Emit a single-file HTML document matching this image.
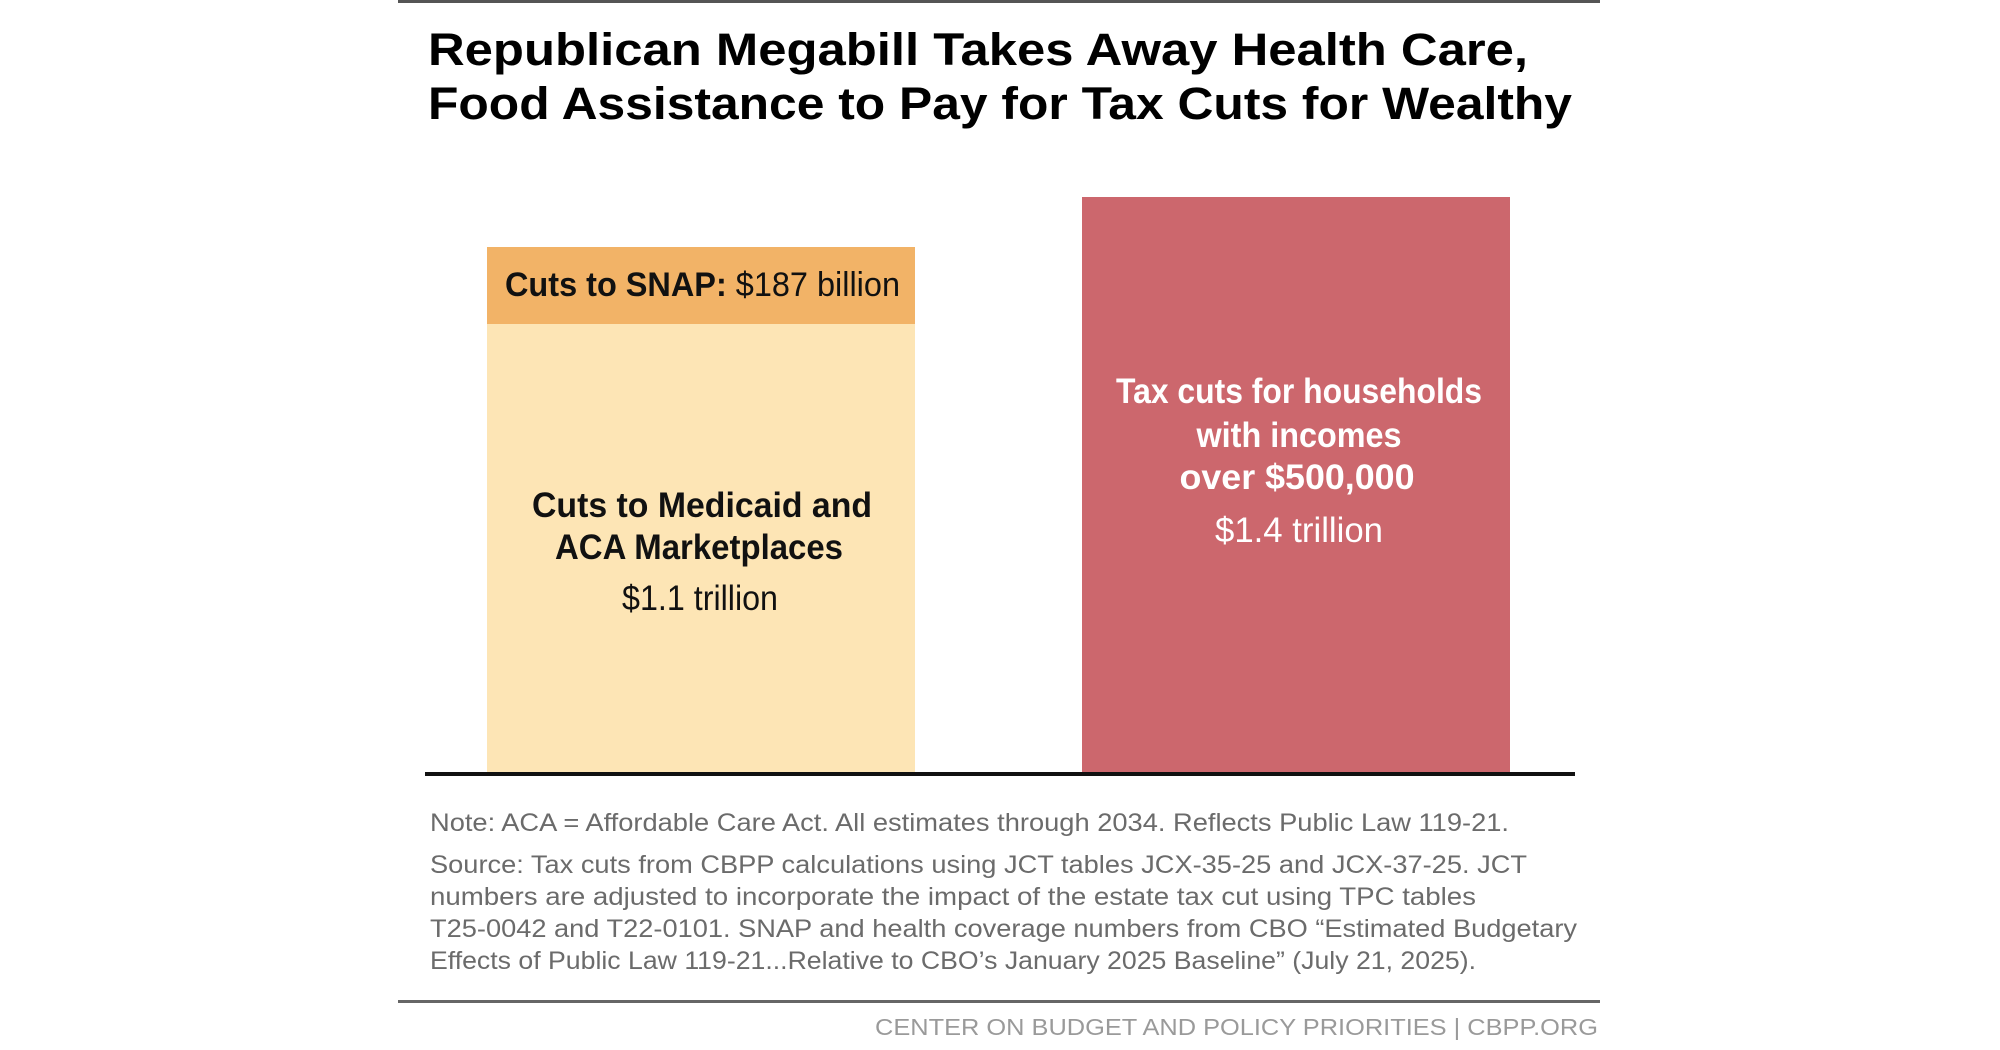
<!DOCTYPE html>
<html>
<head>
<meta charset="utf-8">
<style>
  html,body{margin:0;padding:0;background:#fff;}
  svg{display:block;}
  text{font-family:"Liberation Sans",Arial,sans-serif;}
</style>
</head>
<body>
<svg width="2000" height="1050" viewBox="0 0 2000 1050" xmlns="http://www.w3.org/2000/svg">
  <rect x="0" y="0" width="2000" height="1050" fill="#ffffff"/>
  <!-- top rule -->
  <rect x="398" y="0" width="1202" height="3" fill="#555555"/>

  <!-- title -->
  <text x="428" y="65" font-size="45" font-weight="bold" fill="#000" textLength="1100" lengthAdjust="spacingAndGlyphs">Republican Megabill Takes Away Health Care,</text>
  <text x="428" y="119" font-size="45" font-weight="bold" fill="#000" textLength="1144" lengthAdjust="spacingAndGlyphs">Food Assistance to Pay for Tax Cuts for Wealthy</text>

  <!-- left bar -->
  <rect x="487" y="324" width="428" height="450" fill="#FDE5B5"/>
  <rect x="487" y="247" width="428" height="77" fill="#F2B367"/>
  <text x="505" y="296" font-size="34" fill="#111" textLength="395" lengthAdjust="spacingAndGlyphs"><tspan font-weight="bold">Cuts to SNAP:</tspan> $187 billion</text>

  <text x="702" y="517" font-size="35" font-weight="bold" fill="#111" text-anchor="middle" textLength="340" lengthAdjust="spacingAndGlyphs">Cuts to Medicaid and</text>
  <text x="699" y="559" font-size="35" font-weight="bold" fill="#111" text-anchor="middle" textLength="288" lengthAdjust="spacingAndGlyphs">ACA Marketplaces</text>
  <text x="700" y="610" font-size="35" fill="#111" text-anchor="middle" textLength="156" lengthAdjust="spacingAndGlyphs">$1.1 trillion</text>

  <!-- right bar -->
  <rect x="1082" y="197" width="428" height="577" fill="#CC676D"/>
  <text x="1299" y="403" font-size="35" font-weight="bold" fill="#fff" text-anchor="middle" textLength="366" lengthAdjust="spacingAndGlyphs">Tax cuts for households</text>
  <text x="1299" y="447" font-size="35" font-weight="bold" fill="#fff" text-anchor="middle" textLength="205" lengthAdjust="spacingAndGlyphs">with incomes</text>
  <text x="1297" y="489" font-size="35" font-weight="bold" fill="#fff" text-anchor="middle" textLength="235" lengthAdjust="spacingAndGlyphs">over $500,000</text>
  <text x="1299" y="542" font-size="35" fill="#fff" text-anchor="middle" textLength="168" lengthAdjust="spacingAndGlyphs">$1.4 trillion</text>

  <!-- axis -->
  <rect x="425" y="772" width="1150" height="4" fill="#111"/>

  <!-- notes -->
  <g font-size="25" fill="#6b6b6b">
    <text x="430" y="831" textLength="1079" lengthAdjust="spacingAndGlyphs">Note: ACA = Affordable Care Act. All estimates through 2034. Reflects Public Law 119-21.</text>
    <text x="430" y="873" textLength="1097" lengthAdjust="spacingAndGlyphs">Source: Tax cuts from CBPP calculations using JCT tables JCX-35-25 and JCX-37-25. JCT</text>
    <text x="430" y="905" textLength="1046" lengthAdjust="spacingAndGlyphs">numbers are adjusted to incorporate the impact of the estate tax cut using TPC tables</text>
    <text x="430" y="937" textLength="1147" lengthAdjust="spacingAndGlyphs">T25-0042 and T22-0101. SNAP and health coverage numbers from CBO “Estimated Budgetary</text>
    <text x="430" y="969" textLength="1046" lengthAdjust="spacingAndGlyphs">Effects of Public Law 119-21...Relative to CBO’s January 2025 Baseline” (July 21, 2025).</text>
  </g>

  <!-- bottom rule -->
  <rect x="398" y="1000" width="1202" height="3" fill="#666666"/>

  <!-- footer -->
  <text x="1598" y="1035" font-size="23" fill="#9a9a9a" text-anchor="end" textLength="723" lengthAdjust="spacingAndGlyphs">CENTER ON BUDGET AND POLICY PRIORITIES | CBPP.ORG</text>
</svg>
</body>
</html>
